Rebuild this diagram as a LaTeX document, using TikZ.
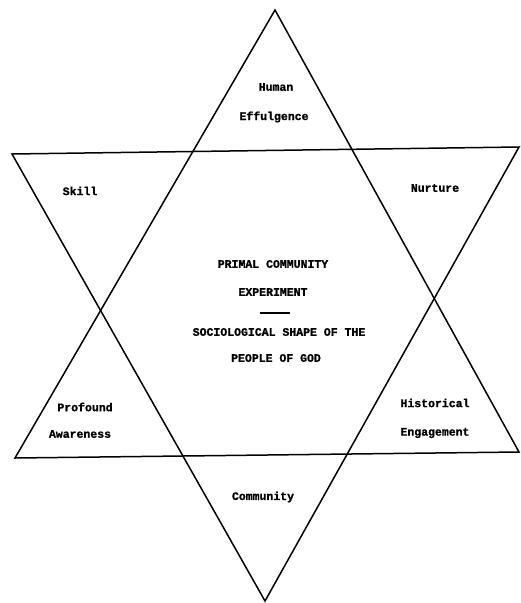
\documentclass[tikz,border=0pt]{standalone}
\usepackage{fontspec}
\setmonofont{Liberation Mono}[BoldFeatures={FakeBold=1.2}]
\begin{document}
\begin{tikzpicture}[x=1pt,y=-1pt,
  edge/.style={line width=1.5pt,black,line join=miter},
  lbl/.style={font=\ttfamily\bfseries\fontsize{11.5}{13}\selectfont,inner sep=0pt,anchor=center}]
\useasboundingbox (0,0) rectangle (520,603);
% upward triangle
\coordinate (ua) at (275,10);
\coordinate (ul) at (15,458);
\coordinate (ur) at (519,452);
% downward triangle
\coordinate (dl) at (12,154);
\coordinate (dr) at (519,147);
\coordinate (da) at (265,601);
\draw[edge] (ua) -- (ur) -- (ul) -- cycle;
\draw[edge] (dl) -- (dr) -- (da) -- cycle;
% labels
\node[lbl] (human) at (276,87) {Human};
\node[lbl] (eff) at (274,117) {Effulgence};
\node[lbl] (skill) at (80,191) {Skill};
\node[lbl] (nurt) at (435,188) {Nurture};
\node[lbl] (c1) at (273,264) {PRIMAL COMMUNITY};
\node[lbl] (c2) at (273,292) {EXPERIMENT};
\coordinate (rl) at (260,313);
\coordinate (rr) at (290,313);
\draw[line width=1.6pt] (rl) -- (rr);
\node[lbl] (c3) at (279,332) {SOCIOLOGICAL SHAPE OF THE};
\node[lbl] (c4) at (276,358) {PEOPLE OF GOD};
\node[lbl] (prof) at (85,407) {Profound};
\node[lbl] (aware) at (80,434) {Awareness};
\node[lbl] (hist) at (435,403) {Historical};
\node[lbl] (eng) at (435,433) {Engagement};
\node[lbl] (comm) at (263,497) {Community};
\end{tikzpicture}
\end{document}
